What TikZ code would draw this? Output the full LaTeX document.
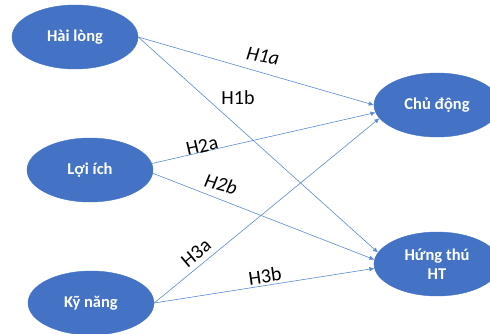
\documentclass[tikz,border=0pt]{standalone}
\usepackage{fontspec}
\setmainfont{Carlito}
\usetikzlibrary{shapes.geometric,arrows.meta}
\definecolor{nodeblue}{HTML}{4472C4}
\definecolor{lineblue}{HTML}{5B8AD6}
\begin{document}
\begin{tikzpicture}[x=1pt,y=1pt,
  var/.style={ellipse,fill=nodeblue,draw=nodeblue,minimum width=126pt,minimum height=64pt,inner sep=0pt,
    text=white,font=\fontsize{16.5}{19.5}\selectfont\bfseries,align=center},
  conn/.style={draw=lineblue,line width=0.6pt,-{Latex[length=5pt,width=4.5pt]}},
  hyp/.style={font=\fontsize{20}{24}\selectfont,text=black,inner sep=0pt}]
\useasboundingbox (0,0) rectangle (490,333);
\node[var] (hl) at (75,296) {Hài lòng};
\node[var] (li) at (90,163) {Lợi ích};
\node[var] (kn) at (91,30) {Kỹ năng};
\node[var] (cd) at (437,228) {Chủ động};
\node[var] (ht) at (437,69) {Hứng thú\\HT};
\draw[conn] (hl.east) -- (cd.180);
\draw[conn] (hl.east) -- (ht.169);
\draw[conn] (li.6.5) -- (cd.187);
\draw[conn] (li.-3) -- (ht.176);
\draw[conn] (kn.east) -- (cd.193);
\draw[conn] (kn.east) -- (ht.184);
\node[hyp,rotate=-10] (h1a) at (263,277) {\itshape H1a};
\node[hyp] (h1b) at (238,235) {H1b};
\node[hyp,rotate=13] (h2a) at (202,187) {H2a};
\node[hyp,rotate=-15] (h2b) at (221,149) {\itshape H2b};
\node[hyp,rotate=40] (h3a) at (196,80) {H3a};
\node[hyp,rotate=8] (h3b) at (265,57) {H3b};
\end{tikzpicture}
\end{document}
